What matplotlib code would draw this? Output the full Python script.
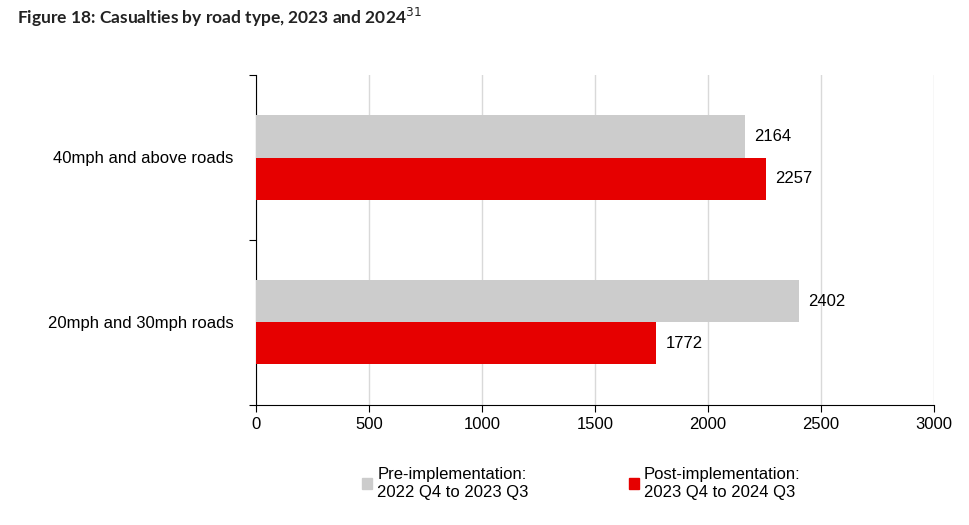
import numpy as np
import matplotlib.pyplot as plt
from matplotlib.patches import Patch

categories = ["20mph and 30mph roads", "40mph and above roads"]
pre_values = [2402, 2164]
post_values = [1772, 2257]
pre_label = "Pre-implementation:\n2022 Q4 to 2023 Q3"
post_label = "Post-implementation:\n2023 Q4 to 2024 Q3"

plt.rcParams['font.family'] = ['Liberation Sans', 'DejaVu Sans']

fig = plt.figure(figsize=(9.69, 5.25), dpi=100)
ax = fig.add_axes([0.264, 0.229, 0.7, 0.628])

y = np.arange(len(categories))
h = 0.255
ax.barh(y + h / 2, pre_values, height=h, color="#cccccc", zorder=3)
ax.barh(y - h / 2, post_values, height=h, color="#e60000", zorder=3)

for yi, v in zip(y + h / 2, pre_values):
    ax.text(v + 40, yi, str(v), va="center", ha="left", fontsize=12)
for yi, v in zip(y - h / 2, post_values):
    ax.text(v + 40, yi, str(v), va="center", ha="left", fontsize=12)

ax.set_xlim(0, 3000)
ax.set_xticks(np.arange(0, 3001, 500))
ax.set_ylim(-0.5, 1.5)
ax.set_yticks([-0.5, 0.5, 1.5])
ax.set_yticklabels([])
ax.set_yticks(y, minor=True)
ax.set_yticklabels(categories, minor=True)
ax.tick_params(axis="y", which="minor", length=0, pad=16, labelsize=12)
ax.tick_params(axis="y", which="major", length=5)
ax.tick_params(axis="x", labelsize=12, length=5)
ax.grid(axis="x", color="#d9d9d9", linewidth=1, zorder=0)
ax.spines["top"].set_visible(False)
ax.spines["right"].set_visible(False)

handles = [Patch(color="#cccccc"), Patch(color="#e60000")]
fig.legend(handles, [pre_label, post_label], ncol=2, loc="lower center",
           bbox_to_anchor=(0.6, 0.02), frameon=False, fontsize=12,
           handlelength=0.6, handleheight=0.6, columnspacing=6, handletextpad=0.3)

fig.text(0.018, 0.955, "Figure 18: Casualties by road type, 2023 and 2024$^{31}$",
         fontsize=12.5, fontweight="bold", family=["Lato", "DejaVu Sans"], color="#222222")

fig.savefig("out.png", dpi=100)
